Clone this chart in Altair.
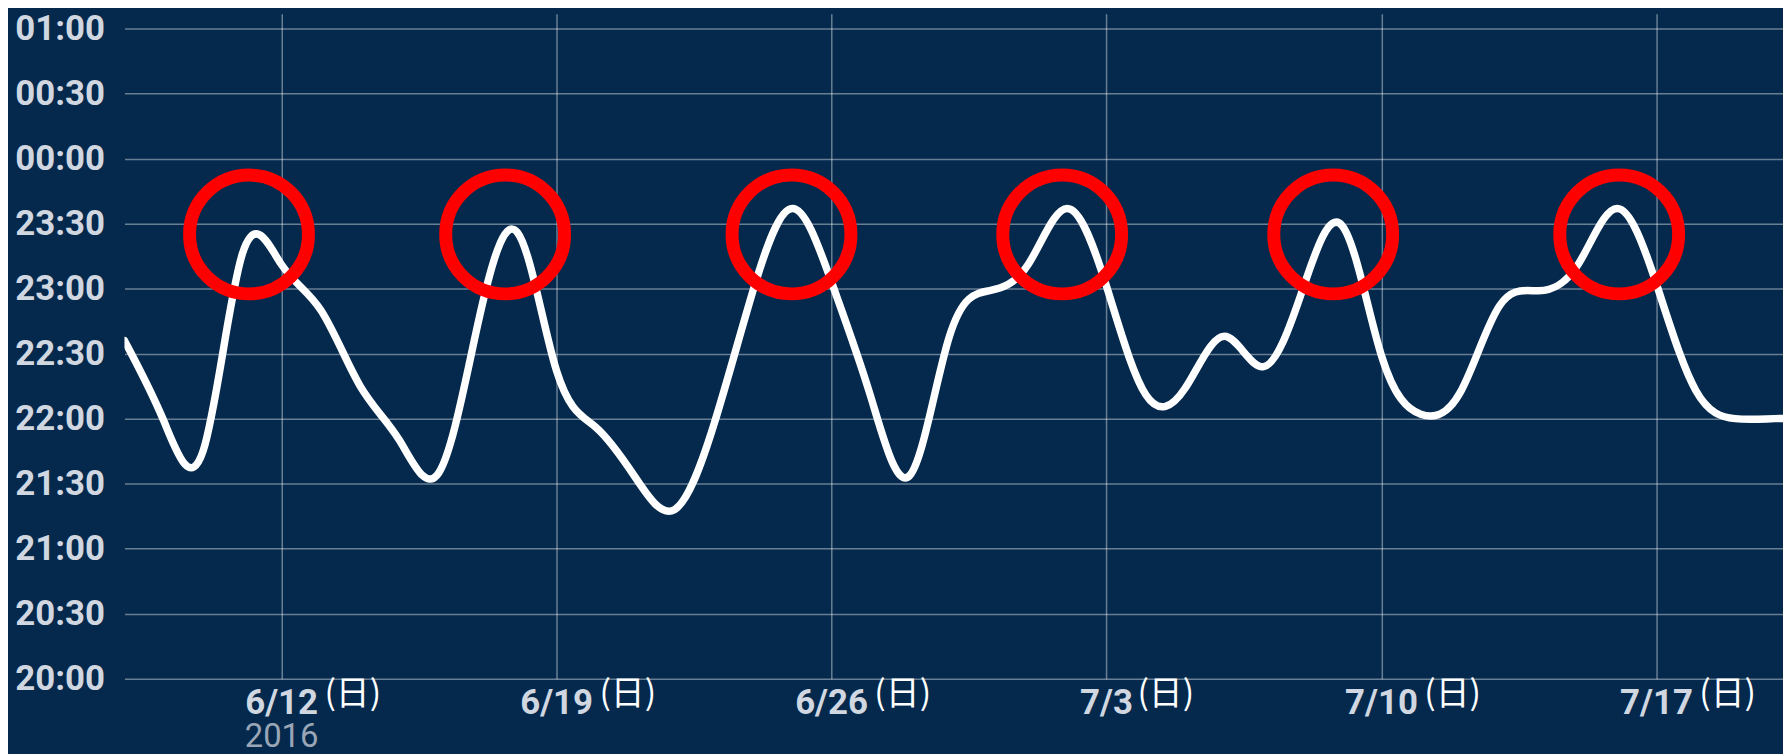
import altair as alt
import pandas as pd

# ---- data ----
START = "2016-06-08"
# one bedtime per day, starting 2016-06-08 (HH:MM)
bedtimes = ["22:36", "21:59", "21:45", "23:16", "23:11", "22:50", "22:15",   # 6/8 - 6/14
            "21:50", "21:35", "22:44", "23:26", "22:22", "21:56", "21:33",   # 6/15 - 6/21
            "21:18", "21:57", "22:59", "23:37", "23:03", "22:10", "21:34",   # 6/22 - 6/28
            "22:38", "22:59", "23:11", "23:37", "23:01", "22:11", "22:14",   # 6/29 - 7/5
            "22:38", "22:24", "23:00", "23:29", "22:29", "22:02", "22:12",   # 7/6 - 7/12
            "22:52", "22:59", "23:11", "23:37", "23:02", "22:13", "22:00",   # 7/13 - 7/19
            "22:00", "22:00"]                                                  # 7/20 - 7/21

# highlighted peaks (red circles)
circle_days = [3.17, 9.69, 16.98, 23.87, 30.77, 38.05]
circle_times = ["23:25", "23:25", "23:25", "23:25", "23:25", "23:25"]

# x tick labels (Sundays)
tick_dates = ["2016-06-12", "2016-06-19", "2016-06-26", "2016-07-03", "2016-07-10", "2016-07-17"]
tick_labels = ["6/12", "6/19", "6/26", "7/3", "7/10", "7/17"]
weekday_label = "(日)"
year_label = "2016"

# y tick labels
y_labels = ["20:00", "20:30", "21:00", "21:30", "22:00", "22:30",
            "23:00", "23:30", "00:00", "00:30", "01:00"]
X_END_DAYS = 42.22
Y_TOP = 306.9

# ---- helpers ----
t0 = pd.Timestamp(START, tz="UTC")


def to_ms(ts):
    return int(ts.value // 1_000_000)


def day_ms(d):
    return to_ms(t0 + pd.Timedelta(days=d))


def minutes_after_20(s):
    h, m = map(int, s.split(":"))
    v = h * 60 + m - 20 * 60
    if h < 12:
        v += 24 * 60
    return v


curve = pd.DataFrame({
    "t": [day_ms(i) for i in range(len(bedtimes))],
    "minutes": [minutes_after_20(s) for s in bedtimes],
})
circles = pd.DataFrame({
    "t": [day_ms(d) for d in circle_days],
    "minutes": [minutes_after_20(s) for s in circle_times],
})
ticks = pd.DataFrame({
    "t": [to_ms(pd.Timestamp(d, tz="UTC")) for d in tick_dates],
    "label": tick_labels,
    "wd": [weekday_label] * len(tick_labels),
})
year_df = pd.DataFrame({"t": [ticks["t"][0]], "label": [year_label]})

y_values = [i * 30 for i in range(len(y_labels))]
label_expr = "[" + ",".join("'%s'" % s for s in y_labels) + "][round(datum.value/30)]"

x_scale = alt.Scale(type="utc", domain=[day_ms(0), day_ms(X_END_DAYS)], nice=False)
y_scale = alt.Scale(domain=[0, Y_TOP], nice=False, zero=False)

LABEL_COLOR = "#D0D7E0"
FONT = "Roboto"

x_axis = alt.Axis(values=list(ticks["t"]), labels=False, ticks=False, domain=False,
                  grid=True, title=None)
y_axis = alt.Axis(values=y_values, labelExpr=label_expr, ticks=False, domain=False,
                  grid=True, title=None, labelFont=FONT, labelFontSize=35,
                  labelFontWeight="bold", labelColor=LABEL_COLOR, labelPadding=20,
                  labelBaseline="middle")

X = alt.X("t:T", scale=x_scale, axis=x_axis)
Y = alt.Y("minutes:Q", scale=y_scale, axis=y_axis)

line = alt.Chart(curve).mark_line(
    color="#FFFFFF", strokeWidth=7.5, interpolate="natural", strokeCap="round", clip=True
).encode(x=X, y=Y)

rings = alt.Chart(circles).mark_point(
    shape="circle", size=14256, filled=False, stroke="#FF0000", strokeWidth=13, opacity=1
).encode(x=X, y=Y)

date_text = alt.Chart(ticks).mark_text(
    font=FONT, fontSize=35, fontWeight="bold", color=LABEL_COLOR, align="center",
    baseline="alphabetic"
).encode(x=X, y=alt.value(704), text="label:N")

wd_long = alt.Chart(ticks).transform_filter("length(datum.label) == 4").mark_text(
    font="Noto Sans CJK JP", fontSize=34, color="#FFFFFF", align="left",
    baseline="alphabetic", dx=43
).encode(x=X, y=alt.value(694), text="wd:N")

wd_short = alt.Chart(ticks).transform_filter("length(datum.label) == 3").mark_text(
    font="Noto Sans CJK JP", fontSize=34, color="#FFFFFF", align="left",
    baseline="alphabetic", dx=31
).encode(x=X, y=alt.value(694), text="wd:N")

year_text = alt.Chart(year_df).mark_text(
    font=FONT, fontSize=33, color="#9AA6B6", align="center", baseline="alphabetic"
).encode(x=X, y=alt.value(737), text="label:N")

chart = alt.layer(line, rings, date_text, wd_long, wd_short, year_text).properties(
    width=1666,
    height=668,
    padding={"left": 117, "top": 4, "right": 0, "bottom": 74},
    autosize=alt.AutoSizeParams(type="none"),
).configure(
    background="#04294C"
).configure_view(
    strokeWidth=0
).configure_axis(
    gridColor="#FFFFFF", gridOpacity=0.4, gridWidth=1.5
)

chart.save("out.html", embed_options={"renderer": "svg", "actions": False})
